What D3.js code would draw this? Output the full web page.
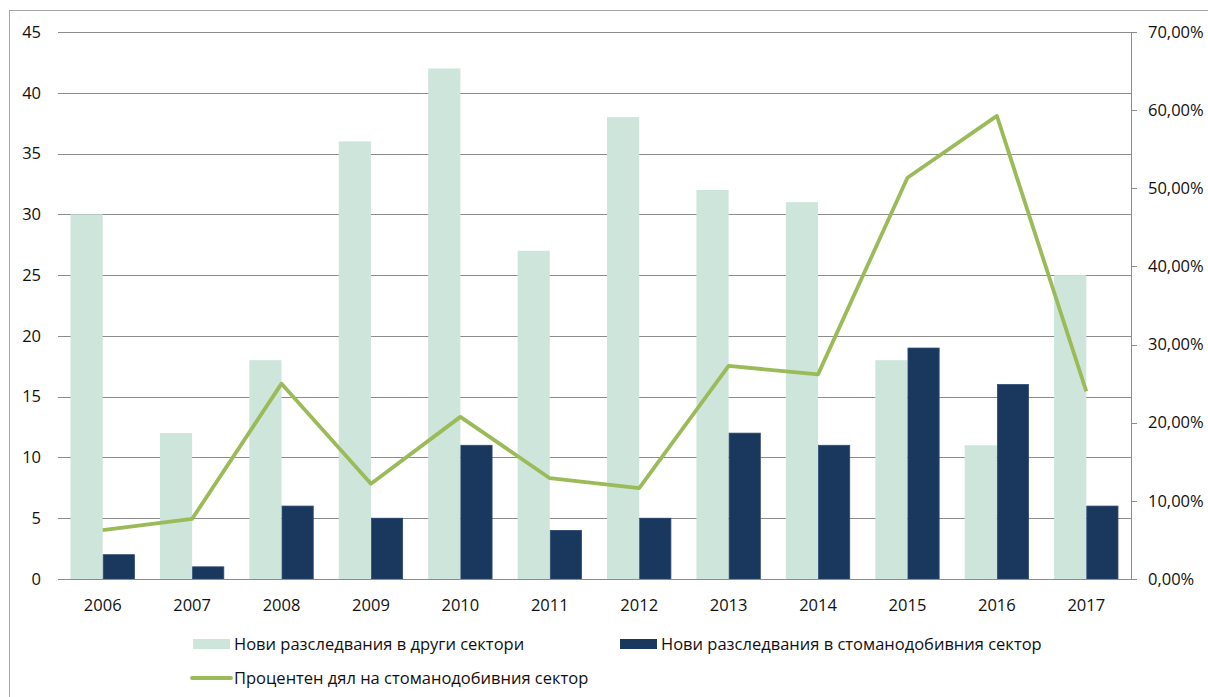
<!DOCTYPE html>
<html><head><meta charset="utf-8">
<script src="https://cdn.jsdelivr.net/npm/d3@7"></script>
<style>body{margin:0;background:#fff}svg{display:block}</style>
</head><body><svg id="c" width="1208" height="697"></svg>
<script>
const years = ["2006","2007","2008","2009","2010","2011","2012","2013","2014","2015","2016","2017"];
const otherSectors = [30,12,18,36,42,27,38,32,31,18,11,25];
const extractiveSector = [2,1,6,5,11,4,5,12,11,19,16,6];
const extractiveShare = [6.25,7.69,25.0,12.2,20.75,12.9,11.63,27.27,26.19,51.35,59.26,24.0];
const leftTicks = [0,5,10,15,20,25,30,35,40,45];
const rightTicks = [0,10,20,30,40,50,60,70];
const legendLabels = ["Нови разследвания в други сектори","Нови разследвания в стоманодобивния сектор","Процентен дял на стоманодобивния сектор"];

const colLight = "#CEE5DB", colDark = "#1A375E", colLine = "#9BBB59", gridCol = "#8C8C8C";
const font = "'Open Sans', 'Noto Sans', sans-serif";
const fs = 16.5;
const svg = d3.select("#c");
const L = 58, R = 1131, T = 32, B = 579;

svg.append("rect").attr("x",9.5).attr("y",10.5).attr("width",1400).attr("height",1000)
  .attr("fill","none").attr("stroke","#A6A6A6").attr("stroke-width",1);

const x = d3.scaleBand().domain(years).range([L,R]).paddingInner(0).paddingOuter(0);
const y = d3.scaleLinear().domain([0,45]).range([B,T]);
const y2 = d3.scaleLinear().domain([0,70]).range([B,T]);

// gridlines
svg.append("g").selectAll("line").data(leftTicks).join("line")
  .attr("x1",L).attr("x2",R).attr("y1",d=>Math.round(y(d))+0.5).attr("y2",d=>Math.round(y(d))+0.5)
  .attr("stroke",gridCol).attr("stroke-width",1);

// left labels
svg.append("g").selectAll("text").data(leftTicks).join("text")
  .attr("x",41).attr("y",d=>y(d)).attr("dy","0.35em").attr("text-anchor","end")
  .attr("font-family",font).attr("font-size",fs).attr("fill","#111").text(d=>d);

// bars
const bw = x.bandwidth()*0.36;
const bars = svg.append("g");
bars.selectAll("rect.o").data(years).join("rect").attr("class","o")
  .attr("x",d=>x(d)+x.bandwidth()/2-bw).attr("width",bw)
  .attr("y",(d,i)=>y(otherSectors[i])).attr("height",(d,i)=>B-y(otherSectors[i]))
  .attr("fill",colLight);
bars.selectAll("rect.e").data(years).join("rect").attr("class","e")
  .attr("x",d=>x(d)+x.bandwidth()/2+0.5).attr("width",bw-1)
  .attr("y",(d,i)=>y(extractiveSector[i])).attr("height",(d,i)=>B-y(extractiveSector[i]))
  .attr("fill",colDark).attr("stroke","#2c4a70").attr("stroke-width",0.8);

// axis lines
svg.append("line").attr("x1",L).attr("x2",R+6).attr("y1",B+0.5).attr("y2",B+0.5).attr("stroke",gridCol);
svg.append("line").attr("x1",R+0.5).attr("x2",R+0.5).attr("y1",T).attr("y2",B).attr("stroke",gridCol);
svg.append("g").selectAll("line").data(rightTicks).join("line")
  .attr("x1",R).attr("x2",R+6).attr("y1",d=>Math.round(y2(d))+0.5).attr("y2",d=>Math.round(y2(d))+0.5)
  .attr("stroke",gridCol);
svg.append("g").selectAll("text").data(rightTicks).join("text")
  .attr("x",1148).attr("y",d=>y2(d)).attr("dy","0.35em")
  .attr("font-family",font).attr("font-size",fs).attr("fill","#111")
  .text(d=>d.toFixed(2).replace(".",",")+"%");

// x labels
svg.append("g").selectAll("text").data(years).join("text")
  .attr("x",d=>x(d)+x.bandwidth()/2).attr("y",605).attr("dy","0.35em").attr("text-anchor","middle")
  .attr("font-family",font).attr("font-size",fs).attr("fill","#111").text(d=>d);

// line
const line = d3.line().x((d,i)=>x(years[i])+x.bandwidth()/2).y(d=>y2(d));
svg.append("path").datum(extractiveShare).attr("d",line).attr("fill","none")
  .attr("stroke",colLine).attr("stroke-width",3.8).attr("stroke-linejoin","round");

// legend
const lg = svg.append("g").attr("font-family",font).attr("font-size",fs).attr("fill","#111");
lg.append("rect").attr("x",193).attr("y",639).attr("width",37).attr("height",10).attr("fill",colLight);
lg.append("text").attr("x",234).attr("y",644).attr("dy","0.35em").text(legendLabels[0]);
lg.append("rect").attr("x",620).attr("y",639).attr("width",37).attr("height",10).attr("fill",colDark);
lg.append("text").attr("x",661).attr("y",644).attr("dy","0.35em").text(legendLabels[1]);
lg.append("line").attr("x1",192).attr("x2",231).attr("y1",678).attr("y2",678).attr("stroke",colLine).attr("stroke-width",3.8).attr("stroke-linecap","round");
lg.append("text").attr("x",234).attr("y",678).attr("dy","0.35em").text(legendLabels[2]);
</script></body></html>
